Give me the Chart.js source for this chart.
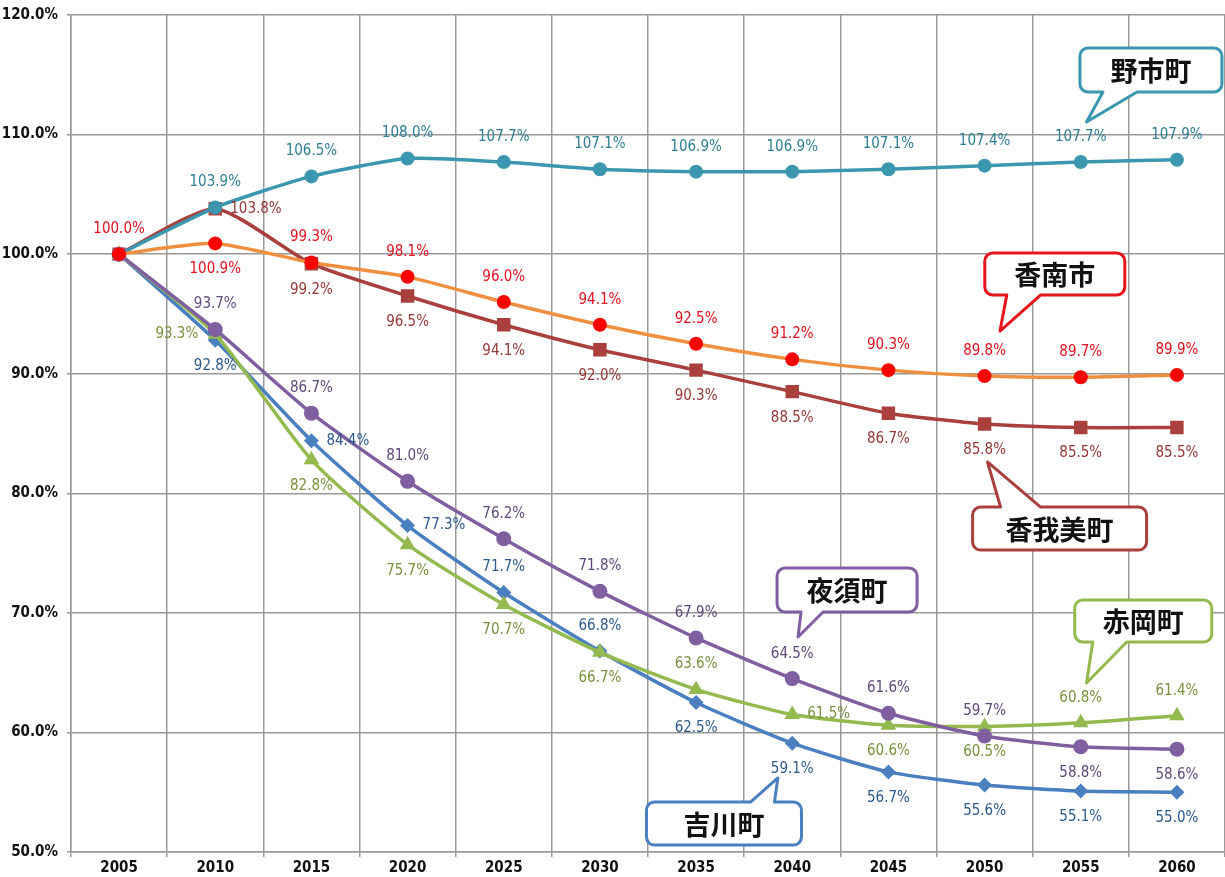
<!DOCTYPE html>
<html lang="ja">
<head>
<meta charset="utf-8">
<script src="https://cdn.jsdelivr.net/npm/chart.js@4/dist/chart.umd.min.js"></script>
<style>
  html, body { margin: 0; padding: 0; background: #fff; }
  #wrap { width: 1225px; height: 877px; position: relative; }
</style>
</head>
<body>
<div id="wrap"><canvas id="c" width="1225" height="877"></canvas></div>
<script>
// population index (2005 = 100%) per town
const YEARS = ['2005', '2010', '2015', '2020', '2025', '2030', '2035', '2040', '2045', '2050', '2055', '2060'];

const NOICHI   = [100.0, 103.9, 106.5, 108.0, 107.7, 107.1, 106.9, 106.9, 107.1, 107.4, 107.7, 107.9];
const KONAN    = [100.0, 100.9, 99.3, 98.1, 96.0, 94.1, 92.5, 91.2, 90.3, 89.8, 89.7, 89.9];
const KAGAMI   = [100.0, 103.8, 99.2, 96.5, 94.1, 92.0, 90.3, 88.5, 86.7, 85.8, 85.5, 85.5];
const YASU     = [100.0, 93.7, 86.7, 81.0, 76.2, 71.8, 67.9, 64.5, 61.6, 59.7, 58.8, 58.6];
const AKAOKA   = [100.0, 93.3, 82.8, 75.7, 70.7, 66.7, 63.6, 61.5, 60.6, 60.5, 60.8, 61.4];
const YOSHIKAWA = [100.0, 92.8, 84.4, 77.3, 71.7, 66.8, 62.5, 59.1, 56.7, 55.6, 55.1, 55.0];

const Y_MIN = 50, Y_MAX = 120, Y_STEP = 10;

// where each value label sits: t=above, b=below, l=left, r=right, n=none
const POS = {
    noichi:    ['n','t','t','t','t','t','t','t','t','t','t','t'],
    konan:     ['t','b','t','t','t','t','t','t','t','t','t','t'],
    kagami:    ['n','r','b','b','b','b','b','b','b','b','b','b'],
    yasu:      ['n','t','t','t','t','t','t','t','t','t','b','b'],
    akaoka:    ['n','l','b','b','b','b','t','r','b','b','t','t'],
    yoshikawa: ['n','b','r','r','t','t','b','b','b','b','b','b'],
};

const FONT = "'DejaVu Sans Condensed', 'Liberation Sans Narrow', 'DejaVu Sans', sans-serif";
const CJK = "'Noto Sans CJK JP', 'Noto Sans CJK SC', sans-serif";

// callout boxes: centre and tip in data space (category index, %)
const CALLOUTS = [
    { text: '野市町',   color: '#3b97b0', cx: 10.73, cy: 115.4, w: 142, h: 44, tipX: 10.06, tipY: 111.05, side: 'bottom', base: [23, 57] },
    { text: '香南市',   color: '#e8141c', cx: 9.73,  cy: 98.34, w: 140, h: 42, tipX: 9.16,  tipY: 93.57,  side: 'bottom', base: [22, 56] },
    { text: '香我美町', color: '#a9403d', cx: 9.78,  cy: 77.05, w: 174, h: 43, tipX: 9.03,  tipY: 82.62,  side: 'top',    base: [28, 68] },
    { text: '夜須町',   color: '#7f5fa0', cx: 7.57,  cy: 71.91, w: 140, h: 44, tipX: 7.06,  tipY: 67.98,  side: 'bottom', base: [24, 46] },
    { text: '赤岡町',   color: '#94b94f', cx: 10.65, cy: 69.32, w: 137, h: 42, tipX: 10.06, tipY: 64.13,  side: 'bottom', base: [18, 52] },
    { text: '吉川町',   color: '#4a7fc0', cx: 6.29,  cy: 52.38, w: 155, h: 43, tipX: 6.85,  tipY: 56.19,  side: 'top',    base: [104, 128] },
];

function series(label, data, color, pointColor, style, radius, labelColor, pos) {
    return {
        label, data,
        borderColor: color,
        backgroundColor: pointColor,
        pointBackgroundColor: pointColor,
        pointBorderColor: pointColor,
        pointBorderWidth: 0,
        pointStyle: style,
        pointRadius: radius,
        borderWidth: 3.5,
        tension: 0.2,
        labelColor, pos,
    };
}

const valueLabels = {
    id: 'valueLabels',
    afterDatasetsDraw(chart) {
        const ctx = chart.ctx;
        ctx.save();
        ctx.font = '15px ' + FONT;
        chart.data.datasets.forEach((ds, di) => {
            const meta = chart.getDatasetMeta(di);
            meta.data.forEach((pt, i) => {
                const p = ds.pos[i];
                if (p === 'n') return;
                const txt = ds.data[i].toFixed(1) + '%';
                let x = pt.x, y = pt.y;
                ctx.fillStyle = ds.labelColor;
                ctx.textBaseline = 'middle';
                if (p === 't') { ctx.textAlign = 'center'; y -= 25; }
                else if (p === 'b') { ctx.textAlign = 'center'; y += 26; }
                else if (p === 'r') { ctx.textAlign = 'left'; x += 15; }
                else if (p === 'l') { ctx.textAlign = 'right'; x -= 17; }
                ctx.fillText(txt, x, y);
            });
        });
        ctx.restore();
    }
};

const callouts = {
    id: 'callouts',
    afterDraw(chart) {
        const ctx = chart.ctx;
        const xs = chart.scales.x, ys = chart.scales.y;
        ctx.save();
        CALLOUTS.forEach(c => {
            const cx = xs.getPixelForValue(c.cx), cy = ys.getPixelForValue(c.cy);
            const tx = xs.getPixelForValue(c.tipX), ty = ys.getPixelForValue(c.tipY);
            const l = cx - c.w / 2, r = cx + c.w / 2, t = cy - c.h / 2, b = cy + c.h / 2;
            const rad = 8;
            const b1 = l + c.base[0], b2 = l + c.base[1];
            ctx.beginPath();
            ctx.moveTo(l + rad, t);
            if (c.side === 'top') {
                ctx.lineTo(b1, t); ctx.lineTo(tx, ty); ctx.lineTo(b2, t);
            }
            ctx.lineTo(r - rad, t);
            ctx.arcTo(r, t, r, t + rad, rad);
            ctx.lineTo(r, b - rad);
            ctx.arcTo(r, b, r - rad, b, rad);
            if (c.side === 'bottom') {
                ctx.lineTo(b2, b); ctx.lineTo(tx, ty); ctx.lineTo(b1, b);
            }
            ctx.lineTo(l + rad, b);
            ctx.arcTo(l, b, l, b - rad, rad);
            ctx.lineTo(l, t + rad);
            ctx.arcTo(l, t, l + rad, t, rad);
            ctx.closePath();
            ctx.fillStyle = '#fff';
            ctx.fill();
            ctx.lineWidth = 3;
            ctx.lineJoin = 'round';
            ctx.strokeStyle = c.color;
            ctx.stroke();
            ctx.fillStyle = '#111';
            ctx.font = 'bold 27px ' + CJK;
            ctx.textAlign = 'center';
            ctx.textBaseline = 'middle';
            ctx.fillText(c.text, cx, cy + 1);
        });
        ctx.restore();
    }
};

new Chart(document.getElementById('c'), {
    type: 'line',
    data: {
        labels: YEARS,
        datasets: [
            series('香南市', KONAN, '#ef9040', '#ff0000', 'circle', 7, '#e3101d', POS.konan),
            series('野市町', NOICHI, '#3b97b0', '#3b97b0', 'circle', 7, '#2e7f94', POS.noichi),
            series('夜須町', YASU, '#7f5fa0', '#7f5fa0', 'circle', 7.5, '#5f497a', POS.yasu),
            series('赤岡町', AKAOKA, '#94b94f', '#94b94f', 'triangle', 9, '#76923c', POS.akaoka),
            series('吉川町', YOSHIKAWA, '#4a7fc0', '#4a7fc0', 'rectRot', 7.5, '#2c5a8c', POS.yoshikawa),
            series('香我美町', KAGAMI, '#a9403d', '#a9403d', 'rect', 9.5, '#953735', POS.kagami),
        ],
    },
    options: {
        responsive: false,
        animation: false,
        devicePixelRatio: 1,
        layout: { autoPadding: false, padding: { top: 15, right: 0, left: 0, bottom: 0 } },
        plugins: { legend: { display: false }, tooltip: { enabled: false } },
        scales: {
            x: {
                offset: true,
                grid: { offset: true, color: '#999', lineWidth: 1.5, tickLength: 5 },
                border: { color: '#999', width: 1.5 },
                ticks: { color: '#111', padding: 2, font: { family: FONT, size: 15, weight: 'bold' } },
                afterFit(s) { s.height = 25; s.paddingLeft = 0; s.paddingRight = 0; },
            },
            y: {
                min: Y_MIN, max: Y_MAX,
                grid: { color: '#999', lineWidth: 1.5, tickLength: 4 },
                border: { color: '#999', width: 1.5 },
                ticks: {
                    stepSize: Y_STEP, color: '#111', padding: 9,
                    font: { family: FONT, size: 15, weight: 'bold' },
                    callback: v => v.toFixed(1) + '%',
                },
                afterFit(s) { s.width = 71; s.paddingTop = 0; s.paddingBottom = 0; },
            },
        },
    },
    plugins: [valueLabels, callouts],
});
</script>
</body>
</html>
